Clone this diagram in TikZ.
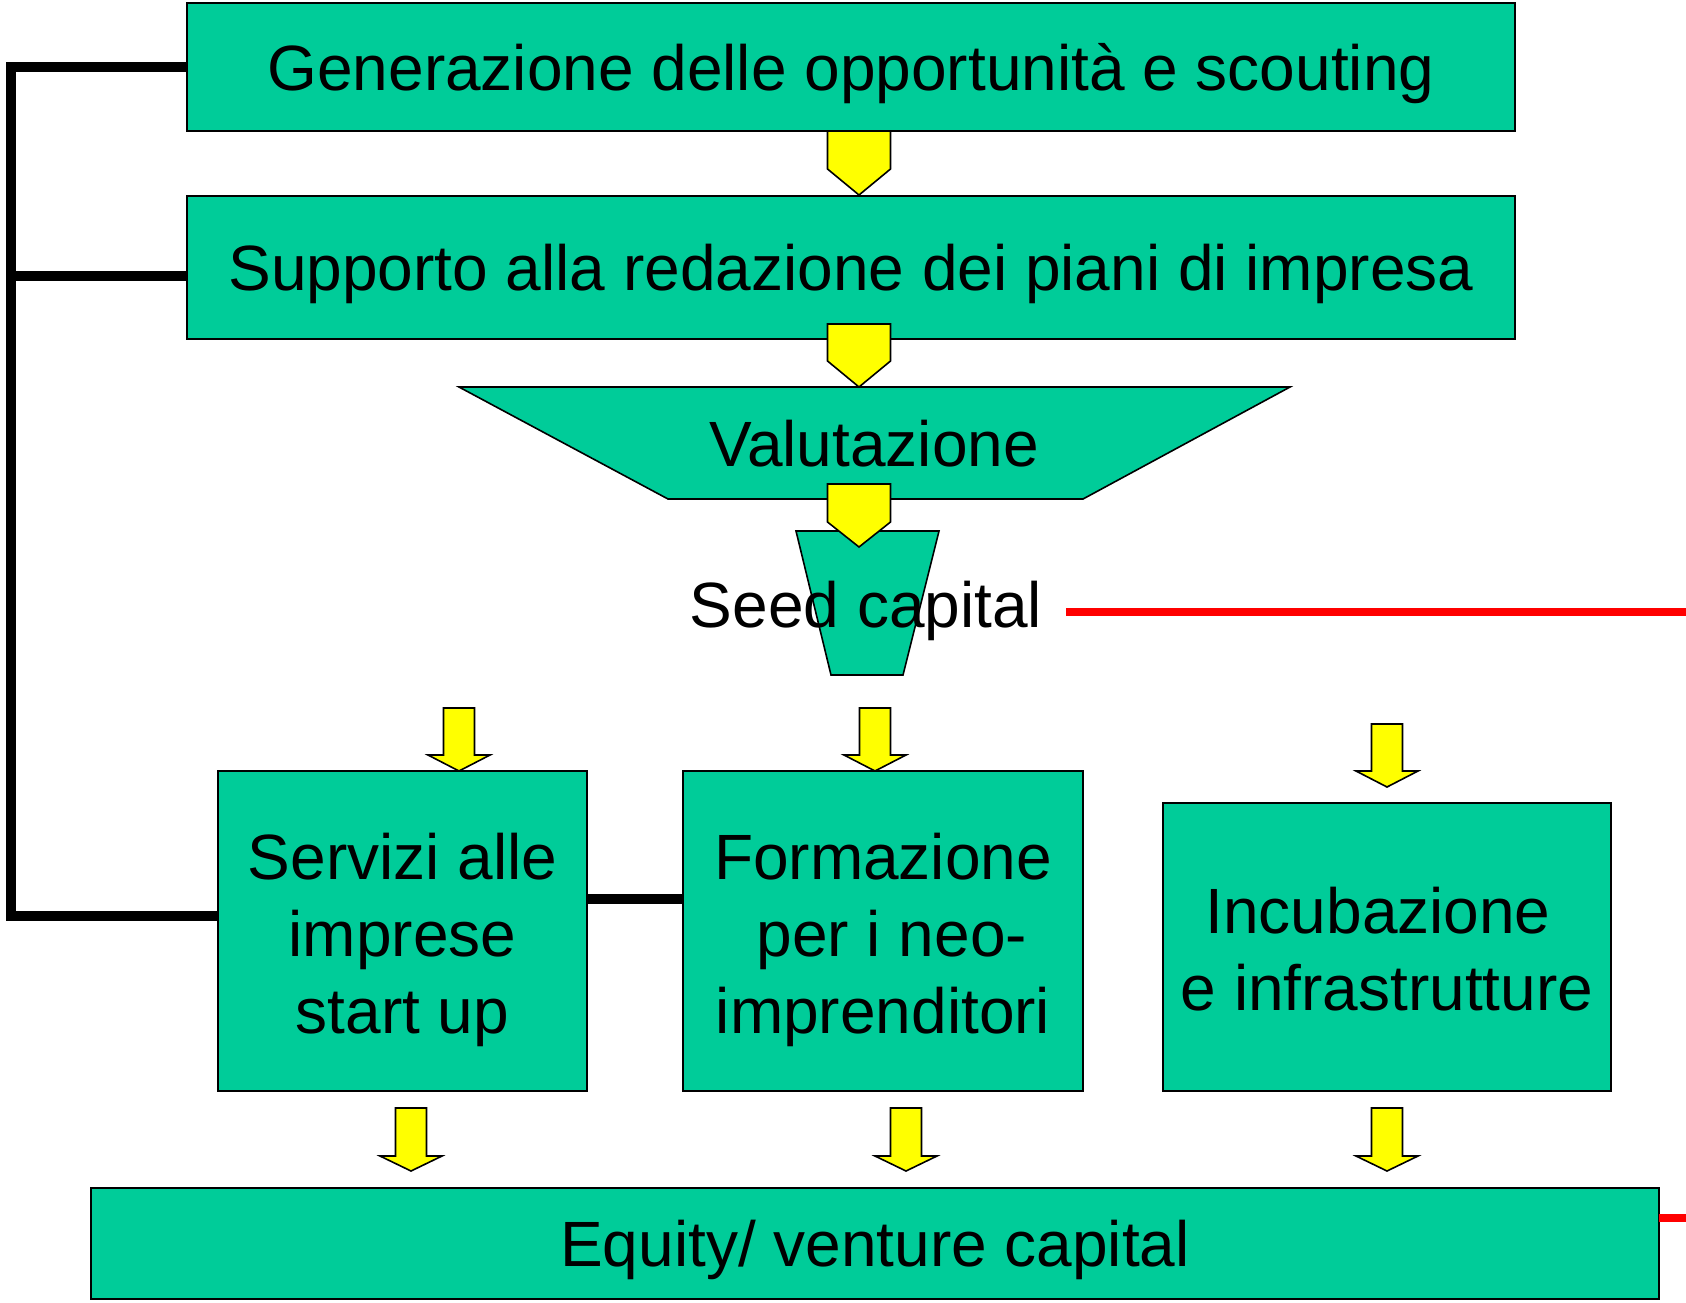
\documentclass[tikz,border=0pt]{standalone}
\usepackage{fontspec}
\setmainfont{Liberation Sans}
\definecolor{grn}{RGB}{0,204,153}
\definecolor{ylw}{RGB}{255,255,0}
\begin{document}
\begin{tikzpicture}[x=0.5pt,y=-0.5pt,
 box/.style={draw=black, fill=grn, line width=0.8pt, inner sep=0pt, outer sep=0pt, align=center, font=\fontsize{32}{38.5}\selectfont},
 onebox/.style={box, text height=23.2pt, text depth=0pt},
 txt/.style={inner sep=0pt, outer sep=0pt, align=center, font=\fontsize{32}{38.5}\selectfont},
 shp/.style={draw=black, fill=grn, line width=0.8pt},
 arr/.style={draw=black, fill=ylw, line width=0.8pt, line join=miter},
 conn/.style={draw=black, line width=4.6pt},
 redline/.style={draw=red, line width=4.2pt}]
\useasboundingbox[fill=white] (0,0) rectangle (1686,1302);

% top boxes
\node[onebox, minimum width=664pt, minimum height=64pt] (gen) at (851,67) {Generazione delle opportunità e scouting};
\node[onebox, minimum width=664pt, minimum height=71.5pt] (sup) at (851,267.5) {Supporto alla redazione dei piani di impresa};

% Valutazione trapezoid
\draw[shp] (459,387) -- (1290,387) -- (1083,499) -- (668,499) -- cycle;
\node[txt, anchor=base] (val) at (874,466) {Valutazione};

% Seed capital trapezoid
\draw[shp] (796,531) -- (939,531) -- (903,675) -- (831,675) -- cycle;

% big arrows
\draw[arr] (827.5,131) -- (890.5,131) -- (890.5,169) -- (859,195) -- (827.5,169) -- cycle;
\draw[arr] (827.5,324) -- (890.5,324) -- (890.5,361) -- (859,387) -- (827.5,361) -- cycle;
\draw[arr] (827.5,484) -- (890.5,484) -- (890.5,522) -- (859,547) -- (827.5,522) -- cycle;

\node[txt, anchor=base] (seed) at (866,627) {Seed capital};

% middle boxes
\node[box, minimum width=184.5pt, minimum height=160pt] (serv) at (402.5,931) {};
\node[txt, yshift=-4.5pt] (servt) at (serv) {Servizi alle\\imprese\\start up};
\node[box, minimum width=200pt, minimum height=160pt] (form) at (883,931) {};
\node[txt, yshift=-4.5pt] (formt) at (form) {Formazione\\\hspace*{0.28em}per i neo-\\imprenditori};
\node[box, minimum width=224pt, minimum height=144pt] (incu) at (1387,947) {};
\node[txt, yshift=-1pt] (incut) at (incu) {Incubazione\hspace*{0.28em}\\e infrastrutture};

% bottom box
\node[onebox, minimum width=784pt, minimum height=55.5pt] (eq) at (875,1243.5) {Equity/ venture capital};

% small arrows row 1
\draw[arr] (443.5,708) -- (474.5,708) -- (474.5,755) -- (490,755) -- (459,771) -- (428,755) -- (443.5,755) -- cycle;
\draw[arr] (859.5,708) -- (890.5,708) -- (890.5,755) -- (906,755) -- (875,771) -- (844,755) -- (859.5,755) -- cycle;
\draw[arr] (1371.5,724) -- (1402.5,724) -- (1402.5,771) -- (1418,771) -- (1387,787) -- (1356,771) -- (1371.5,771) -- cycle;

% small arrows row 2
\draw[arr] (395.5,1108) -- (426.5,1108) -- (426.5,1156) -- (442,1156) -- (411,1171) -- (380,1156) -- (395.5,1156) -- cycle;
\draw[arr] (890.5,1108) -- (921.5,1108) -- (921.5,1156) -- (937,1156) -- (906,1171) -- (875,1156) -- (890.5,1156) -- cycle;
\draw[arr] (1371.5,1108) -- (1402.5,1108) -- (1402.5,1156) -- (1418,1156) -- (1387,1171) -- (1356,1156) -- (1371.5,1156) -- cycle;

% black connectors
\coordinate (lt) at (11,67);
\coordinate (lm) at (11,276);
\coordinate (lb) at (11,916);
\draw[conn] (gen.west |- lt) -- (lt) -- (lb) -- (serv.west |- lb);
\draw[conn] (sup.west |- lm) -- (lm);
\draw[conn] ([yshift=16pt]serv.east) -- ([yshift=16pt]form.west);

% red connectors
\coordinate (r1) at (1686,612);
\coordinate (r2) at (1686,1218);
\draw[redline] ([xshift=12pt]seed.east |- r1) -- (r1);
\draw[redline] (eq.east |- r2) -- (r2);
\end{tikzpicture}
\end{document}
